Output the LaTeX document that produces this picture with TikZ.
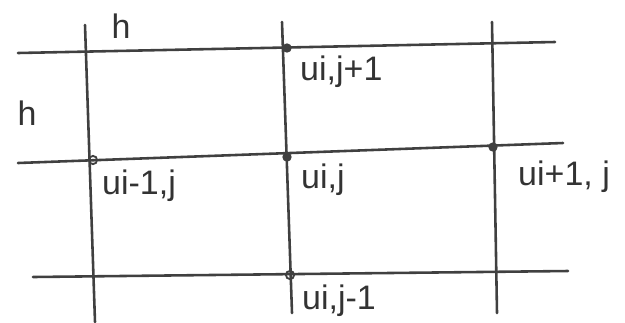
\documentclass[tikz,border=0pt]{standalone}
\usepackage{fontspec}
\setmainfont{Liberation Sans}
\begin{document}
\begin{tikzpicture}[x=0.03cm,y=-0.03cm,
  gridline/.style={draw=black!75, line width=2.2pt, line cap=round},
  lbl/.style={text=black!80, font=\fontsize{29}{33}\selectfont, inner sep=0pt},
  fulldot/.style={circle, fill=black!75, inner sep=0pt, minimum size=8pt},
  opendot/.style={circle, draw=black!75, line width=1.6pt, inner sep=0pt, minimum size=7pt}]
\useasboundingbox (0,0) rectangle (625,322);
% horizontal line ends
\coordinate (t1) at (18,53);  \coordinate (t2) at (555,42);
\coordinate (m1) at (18,163); \coordinate (m2) at (563,143);
\coordinate (b1) at (33,277); \coordinate (b2) at (568,271);
% vertical line ends
\coordinate (l1) at (85,25);  \coordinate (l2) at (95,322);
\coordinate (c1) at (282,22); \coordinate (c2) at (292,313);
\coordinate (r1) at (492,22); \coordinate (r2) at (497,313);
\draw[gridline] (t1) -- (t2);
\draw[gridline] (m1) -- (m2);
\draw[gridline] (b1) -- (b2);
\draw[gridline] (l1) -- (l2);
\draw[gridline] (c1) -- (c2);
\draw[gridline] (r1) -- (r2);
% points
\node[fulldot] (ptop) at (287,48) {};
\node[fulldot] (pc) at (287,157) {};
\node[fulldot] (pr) at (493,147) {};
\node[opendot] (pl) at (93,160) {};
\node[opendot] (pb) at (290,275) {};
% labels
\node[lbl] (hx) at (121,26) {h};
\node[lbl] (hy) at (27,113) {h};
\node[lbl, anchor=west] (Lt) at (300,72) {ui,j+1};
\node[lbl, anchor=west] (Ll) at (102,186) {ui-1,j};
\node[lbl, anchor=west] (Lc) at (301,180) {ui,j};
\node[lbl, anchor=west] (Lr) at (518,177) {ui+1, j};
\node[lbl, anchor=west] (Lb) at (302,301) {ui,j-1};
\end{tikzpicture}
\end{document}
